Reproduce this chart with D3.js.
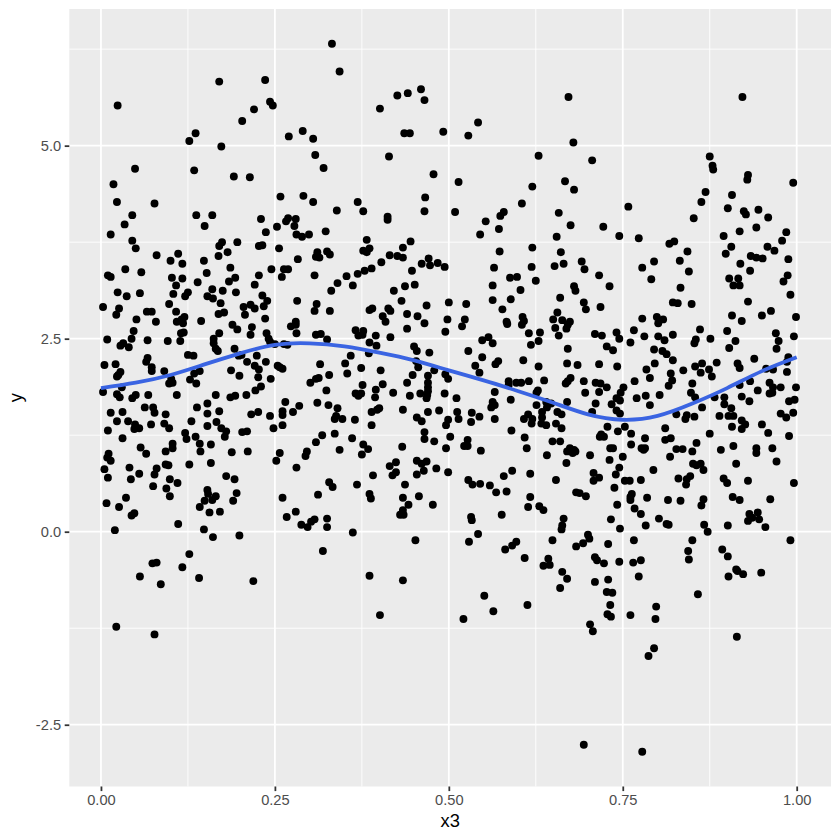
<!DOCTYPE html>
<html>
<head>
<meta charset="utf-8">
<script src="https://cdn.jsdelivr.net/npm/d3@7"></script>
<style>
  body { margin: 0; background: #fff; }
  svg { display: block; }
  text { font-family: "Liberation Sans", Arial, sans-serif; }
</style>
</head>
<body>
<svg id="chart" width="840" height="840"></svg>
<script>
const xBreaks = [0, 0.25, 0.5, 0.75, 1];
const xMinorBreaks = [0.125, 0.375, 0.625, 0.875];
const xTickLabels = ['0.00', '0.25', '0.50', '0.75', '1.00'];
const yBreaks = [-2.5, 0, 2.5, 5];
const yMinorBreaks = [-1.25, 1.25, 3.75, 6.25];
const yTickLabels = ['-2.5', '0.0', '2.5', '5.0'];

// smooth curve
const smoothX = [0, 0.05, 0.1, 0.15, 0.2, 0.25, 0.3, 0.35, 0.4, 0.45, 0.5, 0.55, 0.6, 0.65, 0.7, 0.75, 0.8, 0.85, 0.9, 0.95, 1];
const smoothY = [1.86, 1.93, 2.03, 2.17, 2.31, 2.42, 2.44, 2.40, 2.32, 2.22, 2.09, 1.96, 1.82, 1.67, 1.52, 1.45, 1.50, 1.66, 1.86, 2.08, 2.26];

const x3 = [
0.170,0.236,0.024,0.243,0.247,0.220,0.203,0.136,0.127,0.290,
0.270,0.305,0.173,0.308,0.320,0.049,0.134,0.018,0.191,0.214,
0.258,0.291,0.305,0.023,0.077,0.045,0.137,0.160,0.149,0.034,
0.230,0.269,0.266,0.280,0.278,0.253,0.237,0.014,0.281,0.289,
0.299,0.045,0.174,0.170,0.196,0.227,0.232,0.050,0.256,0.182,
0.111,0.080,0.169,0.311,0.309,0.314,0.100,0.148,0.117,0.283,
0.186,0.245,0.263,0.269,0.035,0.058,0.152,0.010,0.014,0.227,
0.260,0.307,0.102,0.117,0.193,
0.108,0.139,0.184,0.221,0.160,0.175,0.024,0.037,0.056,0.104,
0.125,0.121,0.194,0.153,0.161,0.232,0.239,0.282,0.098,0.172,
0.215,0.205,0.221,0.234,0.310,0.003,0.026,0.307,0.066,0.073,
0.108,0.169,0.177,0.207,0.022,0.120,0.116,0.236,0.051,0.079,
0.109,0.118,0.144,0.280,0.189,0.273,0.280,0.196,0.217,0.047,
0.119,0.115,0.170,0.215,0.238,0.281,0.309,0.009,0.044,0.067,
0.096,0.114,0.162,0.241,0.032,0.028,0.040,0.162,0.243,0.250,
0.263,0.268,0.165,0.192,0.168,0.125,0.133,0.198,0.202,0.224,
0.067,0.065,0.210,0.237,0.005,0.021,0.073,0.221,0.254,0.257,
0.261,0.227,0.073,0.028,0.091,0.142,0.187,0.025,0.023,0.134,
0.199,0.226,0.101,0.128,0.244,0.313,0.309,0.098,0.103,0.137,
0.301,0.030,0.230,0.222,0.003,0.023,0.068,0.109,0.165,0.209,
0.027,0.050,0.045,0.186,0.193,0.265,0.153,0.311,0.063,0.075,
0.138,0.285,0.014,0.031,0.077,0.093,0.153,0.170,0.226,0.216,
0.261,0.276,0.261,0.243,0.023,0.039,0.130,0.166,0.049,0.072,
0.091,0.153,0.261,0.048,0.055,0.098,0.173,0.248,0.010,0.121,
0.180,0.203,0.210,0.031,0.123,0.136,0.178,0.309,0.142,0.158,
0.103,0.057,0.103,0.093,0.143,0.188,0.211,0.065,0.257,0.296,
0.294,0.011,0.009,0.014,0.252,0.093,0.097,0.127,0.158,0.041,
0.281,0.005,0.080,0.055,0.077,0.180,0.010,0.043,0.099,0.192,
0.110,0.075,0.094,0.153,0.154,0.195,0.312,0.099,0.165,0.036,
0.261,0.149,0.160,0.190,0.008,0.026,0.142,0.156,0.171,0.280,
0.048,0.044,0.267,0.307,0.302,0.288,0.297,0.111,0.148,0.020,
0.199,0.161,
0.319,0.127,0.074,0.080,0.117,0.056,0.141,0.086,0.219,0.022,
0.077,
0.332,0.343,0.460,0.441,0.426,0.465,0.401,0.542,0.528,0.436,
0.444,0.492,0.672,0.414,0.629,0.478,0.514,0.667,0.620,0.466,
0.369,0.605,0.339,0.377,0.465,0.509,0.579,0.574,0.658,0.412,
0.412,0.553,0.675,0.323,0.572,0.545,0.655,0.382,0.445,0.434,
0.620,0.386,0.377,0.382,0.573,0.661,0.325,0.329,0.415,0.426,
0.434,0.471,0.403,0.461,0.473,0.484,0.494,0.665,0.652,0.619,
0.565,0.389,0.379,0.447,0.369,0.353,0.588,0.598,0.625,
0.340,0.362,0.331,0.421,0.437,0.451,0.563,0.603,0.660,0.432,
0.563,0.589,0.468,0.500,0.525,0.577,0.390,0.386,0.329,0.413,
0.416,0.656,0.440,0.455,0.405,0.606,0.498,0.523,0.650,0.663,
0.674,0.409,0.583,0.608,0.465,0.605,0.584,0.671,0.519,0.440,
0.653,0.669,0.366,0.377,0.495,0.615,0.631,0.316,0.370,0.376,
0.395,0.416,0.658,0.557,0.548,0.325,0.629,0.386,0.563,0.396,
0.450,0.618,0.454,0.528,0.472,0.671,0.385,0.359,0.548,0.453,
0.607,0.351,0.571,0.567,0.670,0.315,0.538,0.456,0.629,0.374,
0.402,0.479,0.544,0.354,0.328,0.448,0.470,0.495,0.499,0.637,
0.586,0.586,0.597,0.604,0.615,0.675,0.671,0.668,0.440,0.470,
0.470,0.376,0.405,0.395,0.324,0.470,0.566,0.628,0.626,0.420,
0.494,0.366,0.374,0.370,0.459,0.444,0.469,0.468,0.394,0.511,
0.589,0.670,0.563,0.640,0.647,0.626,0.327,0.566,0.561,0.641,
0.340,0.400,0.397,0.389,0.434,0.486,0.470,0.512,0.533,0.634,
0.656,0.662,0.614,0.338,0.454,0.347,0.336,0.365,0.514,0.544,
0.499,0.461,0.532,0.566,0.608,0.620,0.634,0.619,0.633,0.640,
0.654,0.389,0.496,0.662,0.590,0.465,0.318,0.336,0.465,0.502,
0.609,0.361,0.479,0.527,0.649,0.660,0.377,0.522,0.527,0.433,
0.496,0.612,0.674,0.384,0.343,0.546,0.670,0.375,0.641,0.424,
0.454,0.468,0.669,0.415,0.461,0.482,0.464,0.591,0.499,0.424,
0.419,0.391,0.454,0.617,0.579,0.528,0.654,0.328,0.534,0.545,
0.333,0.368,0.437,0.559,0.583,0.568,0.386,0.388,0.457,0.434,
0.617,0.442,0.477,0.630,0.614,0.636,0.434,0.435,0.430,0.576,
0.532,0.533,0.325,0.665,0.325,0.663,0.662,0.362,0.542,
0.529,0.452,0.597,0.591,0.581,0.649,0.609,0.643,0.636,0.645,
0.663,0.670,0.386,0.434,0.660,0.551,0.613,0.564,0.401,0.521,
0.922,0.679,0.706,0.875,0.879,0.880,0.930,0.929,0.995,0.680,
0.869,0.907,0.863,0.758,0.901,0.945,0.924,0.927,0.959,0.852,
0.722,0.942,0.918,0.985,0.745,0.895,0.773,0.979,0.824,0.817,
0.906,0.958,0.968,0.843,0.898,0.934,0.942,0.951,0.988,0.691,
0.795,0.832,0.919,0.695,0.778,0.845,0.933,0.716,0.987,0.903,
0.916,0.791,
0.731,0.833,0.909,0.918,0.981,0.680,0.682,0.991,0.694,0.697,
0.718,0.822,0.829,0.849,0.930,0.963,0.950,0.907,0.999,0.921,
0.778,0.799,0.808,0.801,0.861,0.900,0.766,0.741,0.970,0.710,
0.720,0.745,0.781,0.801,0.822,0.996,0.810,0.876,0.761,0.855,
0.853,0.912,0.974,0.727,0.736,0.795,0.903,0.971,0.807,0.813,
0.939,0.988,0.822,0.885,0.986,0.796,0.864,0.915,0.716,0.685,
0.742,0.854,0.918,0.784,0.837,0.874,0.956,0.966,0.862,0.986,
0.819,0.878,0.789,0.767,0.821,0.694,0.711,0.718,0.933,0.961,
0.850,0.816,0.918,0.727,0.751,0.966,0.977,0.999,0.944,0.696,
0.716,0.747,0.848,0.961,0.965,0.803,0.783,0.770,0.854,0.882,
0.896,0.921,0.741,0.746,0.932,0.989,0.997,0.711,0.734,0.789,
0.896,0.864,0.906,0.741,0.706,0.746,0.827,0.842,0.853,0.840,
0.889,0.902,0.909,0.977,0.985,0.995,0.921,0.926,0.950,0.728,
0.753,0.811,0.907,0.921,0.743,0.762,0.959,0.875,0.719,0.717,
0.723,0.782,0.819,0.811,0.989,0.856,0.762,0.909,0.965,0.942,
0.732,0.736,0.777,0.782,0.827,0.836,0.891,0.850,0.780,0.942,
0.680,0.678,0.682,0.703,0.750,0.818,0.731,0.971,0.851,0.856,
0.862,0.913,0.745,0.866,0.794,0.708,0.740,0.847,0.716,0.830,
0.842,0.895,0.708,0.753,0.760,0.776,0.930,0.900,0.996,0.841,
0.738,0.683,0.688,0.697,0.763,0.761,0.908,0.785,0.866,0.962,
0.761,0.815,0.833,0.918,0.863,0.742,0.767,0.944,0.932,0.776,
0.733,0.802,0.946,0.936,0.930,0.783,0.813,0.816,0.867,0.901,
0.955,0.746,0.872,0.700,
0.702,0.693,0.683,0.729,0.766,0.850,0.991,0.844,0.893,0.901,
0.845,0.710,0.713,0.723,0.745,0.765,0.776,0.773,0.913,0.915,
0.923,0.949,0.902,0.729,0.710,0.727,0.735,0.858,0.732,0.798,
0.797,0.728,0.733,0.761,0.703,0.707,0.914,0.795,0.787,0.694,
0.778
];

const y = [
5.83,5.85,5.52,5.57,5.52,5.47,5.32,5.16,5.06,5.19,
5.12,5.09,4.99,4.88,4.71,4.70,4.68,4.50,4.60,4.59,
4.34,4.35,4.27,4.27,4.25,4.10,4.10,4.10,3.96,3.98,
4.05,4.06,4.02,4.05,3.96,3.95,3.88,3.85,3.85,3.82,
3.85,3.77,3.75,3.70,3.75,3.70,3.71,3.67,3.67,3.62,
3.60,3.58,3.57,3.62,3.56,3.55,3.51,3.51,3.47,3.53,
3.42,3.40,3.40,3.40,3.40,3.36,3.35,3.32,3.30,3.32,
3.30,3.32,3.29,3.28,3.29,
3.19,3.23,3.24,3.20,3.14,3.12,3.10,3.05,3.09,3.08,
3.10,3.05,3.10,3.05,3.02,3.06,2.99,2.99,2.95,2.96,
2.94,2.91,2.89,2.92,2.95,2.91,2.89,2.86,2.85,2.85,
2.85,2.82,2.84,2.81,2.81,2.78,2.75,2.76,2.75,2.72,
2.72,2.70,2.73,2.72,2.68,2.66,2.68,2.62,2.65,2.60,
2.58,2.57,2.57,2.55,2.57,2.57,2.55,2.49,2.50,2.48,
2.47,2.47,2.50,2.50,2.44,2.41,2.39,2.44,2.46,2.43,
2.43,2.42,2.37,2.37,2.34,2.29,2.28,2.28,2.29,2.28,
2.25,2.20,2.20,2.20,2.16,2.17,2.13,2.15,2.15,2.13,
2.11,2.10,2.08,2.07,2.08,2.08,2.09,2.03,2.01,2.05,
2.02,2.00,1.98,1.97,1.98,1.99,1.98,1.92,1.93,1.92,
1.93,1.87,1.88,1.83,1.81,1.78,1.77,1.77,1.77,1.77,
1.74,1.77,1.73,1.74,1.76,1.68,1.66,1.67,1.61,1.61,
1.61,1.63,1.54,1.55,1.54,1.52,1.53,1.56,1.55,1.52,
1.56,1.55,1.51,1.50,1.43,1.43,1.43,1.42,1.39,1.39,
1.40,1.37,1.38,1.33,1.34,1.34,1.34,1.34,1.31,1.28,
1.30,1.29,1.30,1.21,1.20,1.23,1.23,1.16,1.14,1.13,
1.14,1.09,1.08,1.04,1.04,1.03,1.04,1.01,1.02,1.04,
0.98,1.01,0.96,0.92,0.92,0.87,0.86,0.87,0.89,0.83,
0.83,0.81,0.82,0.75,0.74,0.72,0.70,0.68,0.68,0.68,
0.63,0.59,0.56,0.54,0.49,0.50,0.48,0.46,0.46,0.44,
0.44,0.40,0.41,0.40,0.37,0.32,0.32,0.25,0.26,0.26,
0.24,0.21,0.19,0.16,0.13,0.09,0.06,0.10,0.03,0.02,
-0.05,-0.07,
-0.25,-0.29,-0.41,-0.40,-0.46,-0.58,-0.60,-0.68,-0.64,-1.23,
-1.33,
6.32,5.96,5.73,5.68,5.65,5.59,5.48,5.30,5.13,5.16,
5.16,5.18,5.63,4.86,4.87,4.63,4.53,4.54,4.47,4.33,
4.27,4.25,4.16,4.15,4.15,4.14,4.14,4.09,4.13,4.08,
4.04,4.02,3.97,3.89,3.92,3.85,3.82,3.78,3.76,3.68,
3.68,3.67,3.64,3.62,3.63,3.62,3.63,3.59,3.58,3.57,
3.55,3.54,3.49,3.47,3.45,3.48,3.43,3.47,3.44,3.43,
3.42,3.41,3.38,3.38,3.34,3.31,3.29,3.30,3.25,
3.22,3.19,3.12,3.12,3.18,3.20,3.19,3.13,3.03,2.99,
3.00,3.01,2.93,2.97,2.95,2.88,2.89,2.87,2.86,2.89,
2.86,2.84,2.82,2.79,2.79,2.78,2.75,2.75,2.75,2.74,
2.72,2.72,2.72,2.73,2.70,2.68,2.69,2.68,2.66,2.63,
2.64,2.63,2.61,2.60,2.59,2.57,2.58,2.56,2.54,2.55,
2.54,2.52,2.54,2.52,2.48,2.49,2.47,2.45,2.44,2.41,
2.40,2.42,2.34,2.34,2.32,2.37,2.31,2.28,2.26,2.21,
2.22,2.18,2.21,2.17,2.18,2.17,2.15,2.13,2.14,2.12,
2.09,2.09,2.06,2.05,2.03,2.03,2.02,2.04,1.98,1.96,
1.95,1.90,1.93,1.93,1.95,1.99,1.95,1.92,1.93,1.93,
1.87,1.90,1.91,1.84,1.83,1.82,1.81,1.83,1.80,1.80,
1.79,1.79,1.79,1.76,1.79,1.76,1.77,1.73,1.74,1.73,
1.71,1.68,1.68,1.68,1.66,1.64,1.64,1.64,1.61,1.61,
1.60,1.60,1.58,1.55,1.58,1.57,1.55,1.55,1.54,1.55,
1.55,1.52,1.52,1.50,1.48,1.46,1.46,1.45,1.46,1.49,
1.45,1.43,1.42,1.46,1.46,1.46,1.48,1.40,1.40,1.38,
1.40,1.38,1.38,1.34,1.31,1.29,1.25,1.27,1.20,1.23,
1.22,1.21,1.17,1.19,1.17,1.17,1.13,1.11,1.11,1.10,
1.08,1.08,1.08,1.07,1.06,1.05,1.04,1.00,0.99,0.90,
0.92,0.91,0.89,0.85,0.88,0.82,0.79,0.79,0.77,0.77,
0.73,0.73,0.74,0.75,0.72,0.67,0.67,0.64,0.61,0.62,
0.58,0.61,0.61,0.60,0.52,0.51,0.49,0.43,0.46,0.44,
0.45,0.35,0.35,0.33,0.32,0.28,0.28,0.22,0.22,0.22,
0.19,0.15,0.17,0.17,0.06,0.08,0.03,-0.01,-0.03,
-0.13,-0.11,-0.13,-0.18,-0.23,-0.11,-0.34,-0.35,-0.44,-0.43,
-0.52,-0.61,-0.57,-0.63,-0.73,-0.83,-0.95,-1.03,-1.08,-1.13,
5.63,5.04,4.81,4.86,4.74,4.69,4.62,4.56,4.52,4.43,
4.40,4.36,4.27,4.21,4.19,4.17,4.15,4.11,4.07,4.06,
3.95,3.94,3.89,3.88,3.83,3.83,3.80,3.77,3.76,3.73,
3.69,3.69,3.64,3.63,3.60,3.57,3.55,3.54,3.53,3.50,
3.50,3.51,3.47,3.40,3.42,3.37,3.38,3.32,3.32,3.28,
3.28,3.27,
3.18,3.16,3.19,3.19,3.24,3.18,3.12,3.07,2.97,2.88,
2.91,2.97,2.96,2.95,2.98,2.86,2.80,2.80,2.78,2.73,
2.76,2.78,2.75,2.70,2.62,2.60,2.61,2.58,2.57,2.56,
2.54,2.50,2.53,2.53,2.55,2.53,2.48,2.50,2.45,2.49,
2.44,2.47,2.47,2.40,2.35,2.36,2.38,2.37,2.34,2.30,
2.24,2.26,2.22,2.19,2.20,2.18,2.18,2.18,2.17,2.16,
2.14,2.14,2.12,2.10,2.09,2.10,2.11,2.10,2.06,2.07,
2.05,2.01,1.99,1.95,1.96,1.95,1.93,1.92,1.95,1.93,
1.92,1.89,1.90,1.87,1.87,1.87,1.87,1.87,1.83,1.80,
1.81,1.80,1.80,1.79,1.80,1.77,1.76,1.73,1.74,1.74,
1.74,1.75,1.73,1.70,1.69,1.69,1.71,1.66,1.65,1.64,
1.65,1.61,1.60,1.57,1.55,1.53,1.52,1.51,1.49,1.46,
1.50,1.50,1.50,1.53,1.48,1.54,1.44,1.39,1.39,1.36,
1.36,1.34,1.36,1.33,1.30,1.27,1.28,1.27,1.26,1.23,
1.23,1.21,1.21,1.19,1.24,1.15,1.13,1.11,1.08,1.08,
1.08,1.08,1.08,1.08,1.07,1.07,1.06,1.04,1.06,1.02,
1.06,1.02,1.04,0.99,0.97,0.97,0.93,0.91,0.88,0.86,
0.88,0.88,0.83,0.80,0.80,0.76,0.74,0.72,0.70,0.69,
0.68,0.69,0.66,0.66,0.66,0.67,0.66,0.63,0.63,0.61,
0.57,0.51,0.50,0.46,0.49,0.45,0.45,0.44,0.42,0.42,
0.41,0.41,0.40,0.41,0.34,0.35,0.30,0.25,0.23,0.23,
0.16,0.17,0.16,0.18,0.14,0.08,0.10,0.09,0.09,0.08,
0.06,0.04,0.00,-0.04,
-0.09,-0.15,-0.19,-0.16,-0.11,-0.11,-0.11,-0.25,-0.23,-0.32,
-0.36,-0.33,-0.37,-0.41,-0.39,-0.40,-0.37,-0.58,-0.49,-0.51,
-0.55,-0.53,-0.58,-0.62,-0.65,-0.78,-0.79,-0.81,-0.95,-0.97,
-1.13,-1.07,-1.10,-1.08,-1.20,-1.29,-1.36,-1.51,-1.61,-2.76,
-2.85
];

const panel = { left: 69.3, right: 831, top: 9, bottom: 786.5 };

const xScale = d3.scaleLinear().domain([-0.0455, 1.0493]).range([panel.left, panel.right]);
const yScale = d3.scaleLinear().domain([-3.3, 6.77]).range([panel.bottom, panel.top]);

const svg = d3.select('#chart');

svg.append('rect')
    .attr('x', panel.left)
    .attr('y', panel.top)
    .attr('width', panel.right - panel.left)
    .attr('height', panel.bottom - panel.top)
    .attr('fill', '#ebebeb');

const grid = svg.append('g').attr('stroke', '#fff');

const vLines = (values, width) => grid.selectAll(null).data(values).enter().append('line')
    .attr('x1', (d) => xScale(d)).attr('x2', (d) => xScale(d))
    .attr('y1', panel.top).attr('y2', panel.bottom)
    .attr('stroke-width', width);

const hLines = (values, width) => grid.selectAll(null).data(values).enter().append('line')
    .attr('y1', (d) => yScale(d)).attr('y2', (d) => yScale(d))
    .attr('x1', panel.left).attr('x2', panel.right)
    .attr('stroke-width', width);

vLines(xMinorBreaks, 0.89);
hLines(yMinorBreaks, 0.89);
vLines(xBreaks, 1.78);
hLines(yBreaks, 1.78);

svg.append('g').selectAll('circle')
    .data(d3.zip(x3, y))
    .enter().append('circle')
    .attr('cx', (d) => xScale(d[0]))
    .attr('cy', (d) => yScale(d[1]))
    .attr('r', 3.95)
    .attr('fill', '#000');

const smoothLine = d3.line()
    .x((d) => xScale(d[0]))
    .y((d) => yScale(d[1]))
    .curve(d3.curveNatural);

svg.append('path')
    .attr('d', smoothLine(d3.zip(smoothX, smoothY)))
    .attr('fill', 'none')
    .attr('stroke', '#3a64e2')
    .attr('stroke-width', 3.8);

const styleAxis = (g) => {
    g.select('.domain').remove();
    g.selectAll('.tick line').attr('stroke', '#333').attr('stroke-width', 1.78);
    g.selectAll('.tick text').attr('fill', '#4d4d4d').attr('font-size', 14.67)
        .style('font-family', '"Liberation Sans", Arial, sans-serif');
};

svg.append('g')
    .attr('transform', `translate(0,${panel.bottom})`)
    .call(d3.axisBottom(xScale).tickValues(xBreaks).tickSize(4.6).tickPadding(3.6)
        .tickFormat((d, i) => xTickLabels[i]))
    .call(styleAxis);

svg.append('g')
    .attr('transform', `translate(${panel.left},0)`)
    .call(d3.axisLeft(yScale).tickValues(yBreaks).tickSize(4.6).tickPadding(3.6)
        .tickFormat((d, i) => yTickLabels[i]))
    .call(styleAxis);

svg.append('text')
    .attr('x', (panel.left + panel.right) / 2)
    .attr('y', 827)
    .attr('text-anchor', 'middle')
    .attr('font-size', 18.33)
    .attr('fill', '#000')
    .text('x3');

svg.append('text')
    .attr('transform', `translate(22,${(panel.top + panel.bottom) / 2}) rotate(-90)`)
    .attr('text-anchor', 'middle')
    .attr('font-size', 18.33)
    .attr('fill', '#000')
    .text('y');
</script>
</body>
</html>
